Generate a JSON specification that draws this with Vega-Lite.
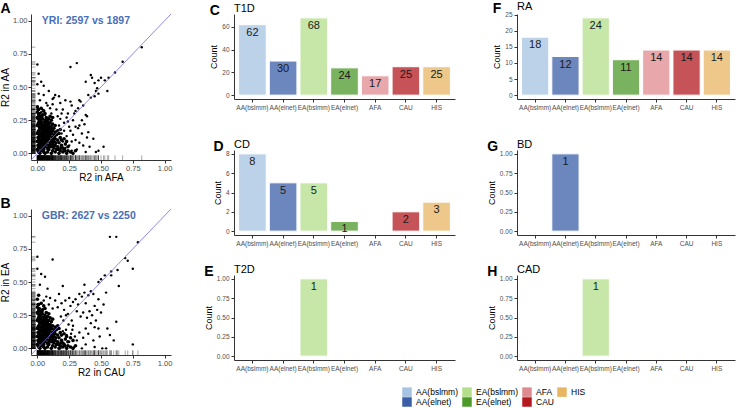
{
  "$schema": "https://vega.github.io/schema/vega-lite/v6.json",
  "padding": {"left": 0, "top": 0, "right": 2, "bottom": 0},
  "config": {
    "font": "Liberation Sans",
    "view": {"stroke": null},
    "title": {"font": "Liberation Sans", "color": "#000"},
    "axis": {"labelFont": "Liberation Sans", "titleFont": "Liberation Sans", "labelColor": "#4d4d4d", "titleColor": "#000", "titleFontWeight": "normal", "domainColor": "#333", "tickColor": "#333", "grid": false, "labelFlush": false, "labelOverlap": false},
    "legend": {"labelFont": "Liberation Sans"}
  },
  "datasets": {
    "bars": [
      {"panel": "T1D", "pop": "AA(bslmm)", "count": 62}, {"panel": "T1D", "pop": "AA(elnet)", "count": 30}, {"panel": "T1D", "pop": "EA(bslmm)", "count": 68}, {"panel": "T1D", "pop": "EA(elnet)", "count": 24}, {"panel": "T1D", "pop": "AFA", "count": 17}, {"panel": "T1D", "pop": "CAU", "count": 25}, {"panel": "T1D", "pop": "HIS", "count": 25},
      {"panel": "CD", "pop": "AA(bslmm)", "count": 8}, {"panel": "CD", "pop": "AA(elnet)", "count": 5}, {"panel": "CD", "pop": "EA(bslmm)", "count": 5}, {"panel": "CD", "pop": "EA(elnet)", "count": 1}, {"panel": "CD", "pop": "AFA", "count": 0}, {"panel": "CD", "pop": "CAU", "count": 2}, {"panel": "CD", "pop": "HIS", "count": 3},
      {"panel": "T2D", "pop": "AA(bslmm)", "count": 0}, {"panel": "T2D", "pop": "AA(elnet)", "count": 0}, {"panel": "T2D", "pop": "EA(bslmm)", "count": 1}, {"panel": "T2D", "pop": "EA(elnet)", "count": 0}, {"panel": "T2D", "pop": "AFA", "count": 0}, {"panel": "T2D", "pop": "CAU", "count": 0}, {"panel": "T2D", "pop": "HIS", "count": 0},
      {"panel": "RA", "pop": "AA(bslmm)", "count": 18}, {"panel": "RA", "pop": "AA(elnet)", "count": 12}, {"panel": "RA", "pop": "EA(bslmm)", "count": 24}, {"panel": "RA", "pop": "EA(elnet)", "count": 11}, {"panel": "RA", "pop": "AFA", "count": 14}, {"panel": "RA", "pop": "CAU", "count": 14}, {"panel": "RA", "pop": "HIS", "count": 14},
      {"panel": "BD", "pop": "AA(bslmm)", "count": 0}, {"panel": "BD", "pop": "AA(elnet)", "count": 1}, {"panel": "BD", "pop": "EA(bslmm)", "count": 0}, {"panel": "BD", "pop": "EA(elnet)", "count": 0}, {"panel": "BD", "pop": "AFA", "count": 0}, {"panel": "BD", "pop": "CAU", "count": 0}, {"panel": "BD", "pop": "HIS", "count": 0},
      {"panel": "CAD", "pop": "AA(bslmm)", "count": 0}, {"panel": "CAD", "pop": "AA(elnet)", "count": 0}, {"panel": "CAD", "pop": "EA(bslmm)", "count": 1}, {"panel": "CAD", "pop": "EA(elnet)", "count": 0}, {"panel": "CAD", "pop": "AFA", "count": 0}, {"panel": "CAD", "pop": "CAU", "count": 0}, {"panel": "CAD", "pop": "HIS", "count": 0}
    ],
    "a": [
      {"x":0.82,"y":0.80},{"x":0.67,"y":0.69},{"x":0.61,"y":0.61},{"x":0.56,"y":0.57},{"x":0.53,"y":0.55},{"x":0.50,"y":0.57},{"x":0.48,"y":0.55},{"x":0.45,"y":0.53},{"x":0.42,"y":0.59},{"x":0.43,"y":0.57},{"x":0.47,"y":0.49},{"x":0.46,"y":0.47},{"x":0.48,"y":0.45},{"x":0.55,"y":0.47},{"x":0.38,"y":0.54},{"x":0.31,"y":0.68},{"x":0.26,"y":0.65},{"x":0.00,"y":0.67},{"x":0.03,"y":0.54},{"x":0.05,"y":0.51},{"x":0.42,"y":0.42},{"x":0.45,"y":0.43},{"x":0.40,"y":0.44},{"x":0.36,"y":0.36},{"x":0.33,"y":0.40},{"x":0.34,"y":0.39},{"x":0.38,"y":0.29},{"x":0.39,"y":0.28},{"x":0.32,"y":0.34},{"x":0.30,"y":0.32},{"x":0.27,"y":0.36},{"x":0.26,"y":0.39},{"x":0.22,"y":0.40},{"x":0.17,"y":0.43},{"x":0.13,"y":0.42},{"x":0.12,"y":0.41},{"x":0.07,"y":0.38},{"x":0.08,"y":0.36},{"x":0.02,"y":0.40},{"x":0.01,"y":0.45},{"x":0.04,"y":0.33},{"x":0.10,"y":0.34},{"x":0.15,"y":0.33},{"x":0.19,"y":0.30},{"x":0.23,"y":0.27},{"x":0.28,"y":0.25},{"x":0.33,"y":0.21},{"x":0.32,"y":0.19},{"x":0.40,"y":0.16},{"x":0.39,"y":0.12},{"x":0.36,"y":0.06},{"x":0.46,"y":0.01},{"x":0.48,"y":0.02},{"x":0.44,"y":0.11},{"x":0.41,"y":0.05},{"x":0.30,"y":0.10},{"x":0.28,"y":0.14},{"x":0.25,"y":0.20},{"x":0.21,"y":0.23},{"x":0.18,"y":0.26},{"x":0.16,"y":0.28},{"x":0.11,"y":0.30},{"x":0.06,"y":0.29},{"x":0.03,"y":0.31},{"x":0.35,"y":0.25},{"x":0.37,"y":0.22},{"x":0.29,"y":0.30},{"x":0.24,"y":0.30},{"x":0.20,"y":0.33},{"x":0.05,"y":0.44},{"x":0.09,"y":0.47},{"x":0.14,"y":0.44},{"x":0.18,"y":0.38},{"x":0.12,"y":0.37},{"x":0.00,"y":0.52},{"x":0.01,"y":0.60},{"x":0.25,"y":0.06},{"x":0.27,"y":0.02},{"x":0.33,"y":0.08},{"x":0.31,"y":0.03},{"x":0.22,"y":0.04},{"x":0.20,"y":0.09},{"x":0.19,"y":0.15},{"x":0.23,"y":0.13},{"x":0.26,"y":0.17},{"x":0.52,"y":0.05},{"x":0.38,"y":0.01},{"x":0.17,"y":0.21},{"x":0.21,"y":0.17},{"x":0.24,"y":0.24},{"x":0.27,"y":0.09},{"x":0.35,"y":0.15},{"x":0.30,"y":0.20}
    ],
    "ac": [
      {"x":0.01,"y":0.01},{"x":0.02,"y":0.00},{"x":0.03,"y":0.02},{"x":0.05,"y":0.01},{"x":0.06,"y":0.00},{"x":0.08,"y":0.01},{"x":0.09,"y":0.03},{"x":0.11,"y":0.00},{"x":0.12,"y":0.02},{"x":0.14,"y":0.01},{"x":0.15,"y":0.03},{"x":0.17,"y":0.00},{"x":0.18,"y":0.02},{"x":0.20,"y":0.01},{"x":0.21,"y":0.03},{"x":0.23,"y":0.00},{"x":0.24,"y":0.02},{"x":0.26,"y":0.01},{"x":0.28,"y":0.00},{"x":0.30,"y":0.02},{"x":0.00,"y":0.03},{"x":0.01,"y":0.05},{"x":0.02,"y":0.07},{"x":0.00,"y":0.09},{"x":0.01,"y":0.11},{"x":0.02,"y":0.13},{"x":0.00,"y":0.15},{"x":0.01,"y":0.17},{"x":0.02,"y":0.19},{"x":0.00,"y":0.21},{"x":0.01,"y":0.23},{"x":0.02,"y":0.25},{"x":0.00,"y":0.27},{"x":0.01,"y":0.29},{"x":0.00,"y":0.31},{"x":0.01,"y":0.33},{"x":0.00,"y":0.35},
      {"x":0.03,"y":0.04},{"x":0.04,"y":0.06},{"x":0.05,"y":0.03},{"x":0.06,"y":0.05},{"x":0.07,"y":0.07},{"x":0.08,"y":0.04},{"x":0.09,"y":0.06},{"x":0.10,"y":0.08},{"x":0.11,"y":0.05},{"x":0.12,"y":0.07},{"x":0.13,"y":0.04},{"x":0.14,"y":0.06},{"x":0.16,"y":0.05},{"x":0.17,"y":0.08},{"x":0.19,"y":0.06},{"x":0.20,"y":0.04},{"x":0.22,"y":0.07},{"x":0.24,"y":0.05},
      {"x":0.03,"y":0.09},{"x":0.04,"y":0.11},{"x":0.05,"y":0.08},{"x":0.06,"y":0.10},{"x":0.07,"y":0.12},{"x":0.08,"y":0.09},{"x":0.09,"y":0.11},{"x":0.10,"y":0.13},{"x":0.11,"y":0.10},{"x":0.12,"y":0.12},{"x":0.13,"y":0.09},{"x":0.14,"y":0.11},{"x":0.15,"y":0.14},{"x":0.16,"y":0.10},{"x":0.18,"y":0.12},{"x":0.19,"y":0.10},{"x":0.21,"y":0.11},{"x":0.23,"y":0.09},
      {"x":0.03,"y":0.14},{"x":0.04,"y":0.16},{"x":0.05,"y":0.13},{"x":0.06,"y":0.15},{"x":0.07,"y":0.17},{"x":0.08,"y":0.14},{"x":0.09,"y":0.16},{"x":0.10,"y":0.18},{"x":0.11,"y":0.15},{"x":0.12,"y":0.17},{"x":0.13,"y":0.14},{"x":0.14,"y":0.16},{"x":0.16,"y":0.17},{"x":0.17,"y":0.15},{"x":0.18,"y":0.18},
      {"x":0.03,"y":0.19},{"x":0.04,"y":0.21},{"x":0.05,"y":0.18},{"x":0.06,"y":0.20},{"x":0.07,"y":0.22},{"x":0.08,"y":0.19},{"x":0.09,"y":0.21},{"x":0.10,"y":0.23},{"x":0.11,"y":0.20},{"x":0.12,"y":0.22},{"x":0.13,"y":0.19},{"x":0.14,"y":0.21},
      {"x":0.03,"y":0.24},{"x":0.04,"y":0.26},{"x":0.05,"y":0.23},{"x":0.06,"y":0.25},{"x":0.07,"y":0.27},{"x":0.08,"y":0.24},{"x":0.09,"y":0.26},{"x":0.10,"y":0.28},{"x":0.11,"y":0.25},{"x":0.12,"y":0.27},
      {"x":0.02,"y":0.28},{"x":0.04,"y":0.29},{"x":0.06,"y":0.30},{"x":0.03,"y":0.34},{"x":0.05,"y":0.32},
      {"x":0.005,"y":0.02},{"x":0.015,"y":0.04},{"x":0.025,"y":0.06},{"x":0.035,"y":0.08},{"x":0.045,"y":0.10},{"x":0.055,"y":0.12},{"x":0.065,"y":0.14},{"x":0.075,"y":0.16},{"x":0.085,"y":0.18},{"x":0.095,"y":0.20},{"x":0.005,"y":0.12},{"x":0.015,"y":0.14},{"x":0.025,"y":0.16},{"x":0.035,"y":0.18},{"x":0.045,"y":0.20},{"x":0.055,"y":0.22},{"x":0.065,"y":0.24},{"x":0.075,"y":0.26},{"x":0.005,"y":0.22},{"x":0.015,"y":0.24},{"x":0.025,"y":0.26},{"x":0.035,"y":0.28},{"x":0.015,"y":0.08},{"x":0.025,"y":0.10},{"x":0.035,"y":0.12},{"x":0.045,"y":0.14},{"x":0.055,"y":0.16},{"x":0.065,"y":0.18},{"x":0.075,"y":0.20},{"x":0.085,"y":0.22},{"x":0.045,"y":0.04},{"x":0.055,"y":0.06},{"x":0.065,"y":0.08},{"x":0.075,"y":0.10},{"x":0.085,"y":0.12},{"x":0.095,"y":0.14},{"x":0.105,"y":0.16},{"x":0.115,"y":0.18},{"x":0.085,"y":0.03},{"x":0.095,"y":0.05},{"x":0.105,"y":0.07},{"x":0.115,"y":0.09},{"x":0.125,"y":0.11},{"x":0.135,"y":0.13},{"x":0.145,"y":0.08},{"x":0.165,"y":0.03},{"x":0.125,"y":0.05},{"x":0.185,"y":0.04},{"x":0.215,"y":0.02},{"x":0.005,"y":0.06},{"x":0.005,"y":0.16},{"x":0.005,"y":0.26},{"x":0.005,"y":0.33},{"x":0.015,"y":0.30},{"x":0.015,"y":0.20},{"x":0.025,"y":0.22},{"x":0.015,"y":0.10}
    ],
    "b": [
      {"x":0.57,"y":0.84},{"x":0.62,"y":0.84},{"x":0.79,"y":0.80},{"x":0.69,"y":0.68},{"x":0.71,"y":0.66},{"x":0.75,"y":0.60},{"x":0.12,"y":0.67},{"x":0.00,"y":0.69},{"x":0.00,"y":0.60},{"x":0.03,"y":0.56},{"x":0.06,"y":0.54},{"x":0.63,"y":0.59},{"x":0.58,"y":0.58},{"x":0.58,"y":0.55},{"x":0.53,"y":0.55},{"x":0.50,"y":0.52},{"x":0.48,"y":0.50},{"x":0.64,"y":0.47},{"x":0.37,"y":0.48},{"x":0.20,"y":0.47},{"x":0.54,"y":0.42},{"x":0.48,"y":0.37},{"x":0.45,"y":0.32},{"x":0.38,"y":0.34},{"x":0.55,"y":0.15},{"x":0.48,"y":0.15},{"x":0.45,"y":0.16},{"x":0.38,"y":0.15},{"x":0.62,"y":0.20},{"x":0.75,"y":0.03},{"x":0.45,"y":0.01},{"x":0.54,"y":0.00},{"x":0.51,"y":0.00},{"x":0.35,"y":0.00},{"x":0.29,"y":0.01},{"x":0.18,"y":0.00},
      {"x":0.42,"y":0.43},{"x":0.44,"y":0.41},{"x":0.40,"y":0.40},{"x":0.37,"y":0.42},{"x":0.35,"y":0.39},{"x":0.33,"y":0.41},{"x":0.30,"y":0.37},{"x":0.32,"y":0.33},{"x":0.28,"y":0.35},{"x":0.26,"y":0.32},{"x":0.25,"y":0.38},{"x":0.22,"y":0.36},{"x":0.19,"y":0.34},{"x":0.16,"y":0.31},{"x":0.14,"y":0.36},{"x":0.10,"y":0.38},{"x":0.07,"y":0.39},{"x":0.05,"y":0.36},{"x":0.03,"y":0.34},{"x":0.09,"y":0.33},{"x":0.12,"y":0.30},{"x":0.41,"y":0.28},{"x":0.43,"y":0.25},{"x":0.39,"y":0.23},{"x":0.36,"y":0.27},{"x":0.34,"y":0.24},{"x":0.31,"y":0.28},{"x":0.47,"y":0.29},{"x":0.50,"y":0.27},{"x":0.52,"y":0.33},{"x":0.46,"y":0.21},{"x":0.42,"y":0.19},{"x":0.40,"y":0.11},{"x":0.36,"y":0.08},{"x":0.33,"y":0.12},{"x":0.31,"y":0.06},{"x":0.28,"y":0.17},{"x":0.27,"y":0.21},{"x":0.24,"y":0.26},{"x":0.21,"y":0.29},{"x":0.23,"y":0.10},{"x":0.25,"y":0.05},{"x":0.20,"y":0.13},{"x":0.44,"y":0.06},{"x":0.57,"y":0.10},{"x":0.60,"y":0.06},{"x":0.49,"y":0.09},{"x":0.38,"y":0.03},{"x":0.17,"y":0.41},{"x":0.08,"y":0.45},{"x":0.02,"y":0.48},{"x":0.185,"y":0.24},{"x":0.205,"y":0.21},{"x":0.225,"y":0.14},{"x":0.245,"y":0.18},{"x":0.265,"y":0.11},{"x":0.275,"y":0.14},{"x":0.295,"y":0.09},{"x":0.225,"y":0.25}
    ],
    "bc": [
      {"x":0.01,"y":0.01},{"x":0.02,"y":0.00},{"x":0.03,"y":0.02},{"x":0.05,"y":0.01},{"x":0.06,"y":0.00},{"x":0.08,"y":0.01},{"x":0.09,"y":0.03},{"x":0.11,"y":0.00},{"x":0.12,"y":0.02},{"x":0.14,"y":0.01},{"x":0.15,"y":0.03},{"x":0.17,"y":0.00},{"x":0.18,"y":0.02},{"x":0.20,"y":0.01},{"x":0.21,"y":0.03},{"x":0.23,"y":0.00},{"x":0.24,"y":0.02},{"x":0.26,"y":0.01},{"x":0.28,"y":0.00},{"x":0.30,"y":0.02},{"x":0.00,"y":0.03},{"x":0.01,"y":0.05},{"x":0.02,"y":0.07},{"x":0.00,"y":0.09},{"x":0.01,"y":0.11},{"x":0.02,"y":0.13},{"x":0.00,"y":0.15},{"x":0.01,"y":0.17},{"x":0.02,"y":0.19},{"x":0.00,"y":0.21},{"x":0.01,"y":0.23},{"x":0.02,"y":0.25},{"x":0.00,"y":0.27},{"x":0.01,"y":0.29},{"x":0.00,"y":0.31},{"x":0.01,"y":0.33},{"x":0.00,"y":0.37},{"x":0.01,"y":0.40},
      {"x":0.03,"y":0.04},{"x":0.04,"y":0.06},{"x":0.05,"y":0.03},{"x":0.06,"y":0.05},{"x":0.07,"y":0.07},{"x":0.08,"y":0.04},{"x":0.09,"y":0.06},{"x":0.10,"y":0.08},{"x":0.11,"y":0.05},{"x":0.12,"y":0.07},{"x":0.13,"y":0.04},{"x":0.14,"y":0.06},{"x":0.16,"y":0.05},{"x":0.17,"y":0.08},{"x":0.19,"y":0.06},{"x":0.20,"y":0.04},{"x":0.22,"y":0.07},{"x":0.24,"y":0.05},{"x":0.26,"y":0.08},{"x":0.28,"y":0.06},
      {"x":0.03,"y":0.09},{"x":0.04,"y":0.11},{"x":0.05,"y":0.08},{"x":0.06,"y":0.10},{"x":0.07,"y":0.12},{"x":0.08,"y":0.09},{"x":0.09,"y":0.11},{"x":0.10,"y":0.13},{"x":0.11,"y":0.10},{"x":0.12,"y":0.12},{"x":0.13,"y":0.09},{"x":0.14,"y":0.11},{"x":0.15,"y":0.14},{"x":0.16,"y":0.10},{"x":0.18,"y":0.12},{"x":0.19,"y":0.10},{"x":0.21,"y":0.11},{"x":0.23,"y":0.09},
      {"x":0.03,"y":0.14},{"x":0.04,"y":0.16},{"x":0.05,"y":0.13},{"x":0.06,"y":0.15},{"x":0.07,"y":0.17},{"x":0.08,"y":0.14},{"x":0.09,"y":0.16},{"x":0.10,"y":0.18},{"x":0.11,"y":0.15},{"x":0.12,"y":0.17},{"x":0.13,"y":0.14},{"x":0.14,"y":0.16},{"x":0.16,"y":0.17},{"x":0.17,"y":0.15},
      {"x":0.03,"y":0.19},{"x":0.04,"y":0.21},{"x":0.05,"y":0.18},{"x":0.06,"y":0.20},{"x":0.07,"y":0.22},{"x":0.08,"y":0.19},{"x":0.09,"y":0.21},{"x":0.10,"y":0.23},{"x":0.11,"y":0.20},{"x":0.12,"y":0.22},
      {"x":0.03,"y":0.24},{"x":0.04,"y":0.26},{"x":0.05,"y":0.23},{"x":0.06,"y":0.25},{"x":0.07,"y":0.27},{"x":0.08,"y":0.24},{"x":0.09,"y":0.26},
      {"x":0.02,"y":0.28},{"x":0.04,"y":0.29},{"x":0.06,"y":0.30},{"x":0.03,"y":0.34},{"x":0.05,"y":0.32},
      {"x":0.005,"y":0.02},{"x":0.015,"y":0.04},{"x":0.025,"y":0.06},{"x":0.035,"y":0.08},{"x":0.045,"y":0.10},{"x":0.055,"y":0.12},{"x":0.065,"y":0.14},{"x":0.075,"y":0.16},{"x":0.085,"y":0.18},{"x":0.005,"y":0.12},{"x":0.015,"y":0.14},{"x":0.025,"y":0.16},{"x":0.035,"y":0.18},{"x":0.045,"y":0.20},{"x":0.055,"y":0.22},{"x":0.065,"y":0.24},{"x":0.005,"y":0.22},{"x":0.015,"y":0.24},{"x":0.025,"y":0.26},{"x":0.035,"y":0.28},{"x":0.015,"y":0.08},{"x":0.025,"y":0.10},{"x":0.035,"y":0.12},{"x":0.045,"y":0.14},{"x":0.055,"y":0.16},{"x":0.065,"y":0.18},{"x":0.075,"y":0.20},{"x":0.045,"y":0.04},{"x":0.055,"y":0.06},{"x":0.065,"y":0.08},{"x":0.075,"y":0.10},{"x":0.085,"y":0.12},{"x":0.095,"y":0.14},{"x":0.105,"y":0.16},{"x":0.085,"y":0.03},{"x":0.095,"y":0.05},{"x":0.105,"y":0.07},{"x":0.115,"y":0.09},{"x":0.125,"y":0.11},{"x":0.135,"y":0.13},{"x":0.145,"y":0.08},{"x":0.165,"y":0.03},{"x":0.125,"y":0.05},{"x":0.185,"y":0.04},{"x":0.215,"y":0.02},{"x":0.005,"y":0.06},{"x":0.005,"y":0.16},{"x":0.005,"y":0.26},{"x":0.005,"y":0.33},{"x":0.015,"y":0.30},{"x":0.015,"y":0.20},{"x":0.025,"y":0.22},{"x":0.015,"y":0.10}
    ]
  },
  "hconcat": [
    {
      "spacing": 13,
      "vconcat": [
        {
          "title": {"text": "A", "anchor": "start", "frame": "bounds", "fontSize": 14, "fontWeight": "bold", "offset": -2},
          "width": 140, "height": 146,
          "layer": [
            {"data": {"name": "ac"}, "mark": {"type": "rule", "color": "#000", "strokeWidth": 0.5, "opacity": 0.7},
             "encoding": {"x": {"field": "x", "type": "quantitative", "scale": {"domain": [-0.05, 1.05], "nice": false, "zero": false}, "axis": {"values": [0, 0.25, 0.5, 0.75, 1], "format": ".2f", "title": "R2 in AFA", "labelFontSize": 7.5, "titleFontSize": 10, "tickSize": 3, "labelPadding": 1, "titlePadding": 1, "labelOverlap": false}},
                          "y": {"datum": -0.05, "type": "quantitative", "scale": {"domain": [-0.05, 1.05], "nice": false, "zero": false}, "axis": {"values": [0, 0.25, 0.5, 0.75, 1], "format": ".2f", "title": "R2 in AA", "labelFontSize": 7.5, "titleFontSize": 10, "tickSize": 3, "labelPadding": 1, "titlePadding": 2, "labelOverlap": false}},
                          "y2": {"datum": -0.015}}},
            {"data": {"name": "a"}, "mark": {"type": "rule", "color": "#000", "strokeWidth": 0.5, "opacity": 0.7},
             "encoding": {"x": {"field": "x", "type": "quantitative", "axis": {"values": [0, 0.25, 0.5, 0.75, 1], "format": ".2f", "title": "R2 in AFA", "labelFontSize": 7.5, "titleFontSize": 10, "tickSize": 3, "labelPadding": 1, "titlePadding": 1, "labelOverlap": false}},
                          "y": {"datum": -0.05, "type": "quantitative", "axis": {"values": [0, 0.25, 0.5, 0.75, 1], "format": ".2f", "title": "R2 in AA", "labelFontSize": 7.5, "titleFontSize": 10, "tickSize": 3, "labelPadding": 1, "titlePadding": 2, "labelOverlap": false}},
                          "y2": {"datum": -0.015}}},
            {"data": {"name": "ac"}, "mark": {"type": "rule", "color": "#000", "strokeWidth": 0.5, "opacity": 0.7},
             "encoding": {"y": {"field": "y", "type": "quantitative", "axis": {"values": [0, 0.25, 0.5, 0.75, 1], "format": ".2f", "title": "R2 in AA", "labelFontSize": 7.5, "titleFontSize": 10, "tickSize": 3, "labelPadding": 1, "titlePadding": 2, "labelOverlap": false}},
                          "x": {"datum": -0.05, "type": "quantitative", "axis": {"values": [0, 0.25, 0.5, 0.75, 1], "format": ".2f", "title": "R2 in AFA", "labelFontSize": 7.5, "titleFontSize": 10, "tickSize": 3, "labelPadding": 1, "titlePadding": 1, "labelOverlap": false}},
                          "x2": {"datum": -0.015}}},
            {"data": {"name": "a"}, "mark": {"type": "rule", "color": "#000", "strokeWidth": 0.5, "opacity": 0.7},
             "encoding": {"y": {"field": "y", "type": "quantitative", "axis": {"values": [0, 0.25, 0.5, 0.75, 1], "format": ".2f", "title": "R2 in AA", "labelFontSize": 7.5, "titleFontSize": 10, "tickSize": 3, "labelPadding": 1, "titlePadding": 2, "labelOverlap": false}},
                          "x": {"datum": -0.05, "type": "quantitative", "axis": {"values": [0, 0.25, 0.5, 0.75, 1], "format": ".2f", "title": "R2 in AFA", "labelFontSize": 7.5, "titleFontSize": 10, "tickSize": 3, "labelPadding": 1, "titlePadding": 1, "labelOverlap": false}},
                          "x2": {"datum": -0.015}}},
            {"data": {"name": "ac"}, "mark": {"type": "circle", "color": "#000", "size": 13, "opacity": 1},
             "encoding": {"x": {"field": "x", "type": "quantitative", "axis": {"values": [0, 0.25, 0.5, 0.75, 1], "format": ".2f", "title": "R2 in AFA", "labelFontSize": 7.5, "titleFontSize": 10, "tickSize": 3, "labelPadding": 1, "titlePadding": 1, "labelOverlap": false}},
                          "y": {"field": "y", "type": "quantitative", "axis": {"values": [0, 0.25, 0.5, 0.75, 1], "format": ".2f", "title": "R2 in AA", "labelFontSize": 7.5, "titleFontSize": 10, "tickSize": 3, "labelPadding": 1, "titlePadding": 2, "labelOverlap": false}}}},
            {"data": {"name": "a"}, "mark": {"type": "circle", "color": "#000", "size": 6, "opacity": 1},
             "encoding": {"x": {"field": "x", "type": "quantitative", "axis": {"values": [0, 0.25, 0.5, 0.75, 1], "format": ".2f", "title": "R2 in AFA", "labelFontSize": 7.5, "titleFontSize": 10, "tickSize": 3, "labelPadding": 1, "titlePadding": 1, "labelOverlap": false}},
                          "y": {"field": "y", "type": "quantitative", "axis": {"values": [0, 0.25, 0.5, 0.75, 1], "format": ".2f", "title": "R2 in AA", "labelFontSize": 7.5, "titleFontSize": 10, "tickSize": 3, "labelPadding": 1, "titlePadding": 2, "labelOverlap": false}}}},
            {"data": {"values": [{}]}, "mark": {"type": "rule", "color": "#7468ee", "strokeWidth": 0.8},
             "encoding": {"x": {"datum": -0.05, "type": "quantitative", "axis": {"values": [0, 0.25, 0.5, 0.75, 1], "format": ".2f", "title": "R2 in AFA", "labelFontSize": 7.5, "titleFontSize": 10, "tickSize": 3, "labelPadding": 1, "titlePadding": 1, "labelOverlap": false}},
                          "y": {"datum": -0.05, "type": "quantitative", "axis": {"values": [0, 0.25, 0.5, 0.75, 1], "format": ".2f", "title": "R2 in AA", "labelFontSize": 7.5, "titleFontSize": 10, "tickSize": 3, "labelPadding": 1, "titlePadding": 2, "labelOverlap": false}},
                          "x2": {"datum": 1.05}, "y2": {"datum": 1.05}}},
            {"data": {"values": [{"label": "YRI: 2597 vs 1897"}]}, "mark": {"type": "text", "align": "left", "baseline": "middle", "fontWeight": "bold", "fontSize": 10.5, "color": "#4a6fb8"},
             "encoding": {"x": {"datum": 0.035, "type": "quantitative", "axis": {"values": [0, 0.25, 0.5, 0.75, 1], "format": ".2f", "title": "R2 in AFA", "labelFontSize": 7.5, "titleFontSize": 10, "tickSize": 3, "labelPadding": 1, "titlePadding": 1, "labelOverlap": false}},
                          "y": {"datum": 1.0, "type": "quantitative", "axis": {"values": [0, 0.25, 0.5, 0.75, 1], "format": ".2f", "title": "R2 in AA", "labelFontSize": 7.5, "titleFontSize": 10, "tickSize": 3, "labelPadding": 1, "titlePadding": 2, "labelOverlap": false}},
                          "text": {"field": "label"}}}
          ]
        },
        {
          "title": {"text": "B", "anchor": "start", "frame": "bounds", "fontSize": 14, "fontWeight": "bold", "offset": -2},
          "width": 140, "height": 146,
          "layer": [
            {"data": {"name": "bc"}, "mark": {"type": "rule", "color": "#000", "strokeWidth": 0.5, "opacity": 0.7},
             "encoding": {"x": {"field": "x", "type": "quantitative", "scale": {"domain": [-0.05, 1.05], "nice": false, "zero": false}, "axis": {"values": [0, 0.25, 0.5, 0.75, 1], "format": ".2f", "title": "R2 in CAU", "labelFontSize": 7.5, "titleFontSize": 10, "tickSize": 3, "labelPadding": 1, "titlePadding": 1, "labelOverlap": false}},
                          "y": {"datum": -0.05, "type": "quantitative", "scale": {"domain": [-0.05, 1.05], "nice": false, "zero": false}, "axis": {"values": [0, 0.25, 0.5, 0.75, 1], "format": ".2f", "title": "R2 in EA", "labelFontSize": 7.5, "titleFontSize": 10, "tickSize": 3, "labelPadding": 1, "titlePadding": 2, "labelOverlap": false}},
                          "y2": {"datum": -0.015}}},
            {"data": {"name": "b"}, "mark": {"type": "rule", "color": "#000", "strokeWidth": 0.5, "opacity": 0.7},
             "encoding": {"x": {"field": "x", "type": "quantitative", "axis": {"values": [0, 0.25, 0.5, 0.75, 1], "format": ".2f", "title": "R2 in CAU", "labelFontSize": 7.5, "titleFontSize": 10, "tickSize": 3, "labelPadding": 1, "titlePadding": 1, "labelOverlap": false}},
                          "y": {"datum": -0.05, "type": "quantitative", "axis": {"values": [0, 0.25, 0.5, 0.75, 1], "format": ".2f", "title": "R2 in EA", "labelFontSize": 7.5, "titleFontSize": 10, "tickSize": 3, "labelPadding": 1, "titlePadding": 2, "labelOverlap": false}},
                          "y2": {"datum": -0.015}}},
            {"data": {"name": "bc"}, "mark": {"type": "rule", "color": "#000", "strokeWidth": 0.5, "opacity": 0.7},
             "encoding": {"y": {"field": "y", "type": "quantitative", "axis": {"values": [0, 0.25, 0.5, 0.75, 1], "format": ".2f", "title": "R2 in EA", "labelFontSize": 7.5, "titleFontSize": 10, "tickSize": 3, "labelPadding": 1, "titlePadding": 2, "labelOverlap": false}},
                          "x": {"datum": -0.05, "type": "quantitative", "axis": {"values": [0, 0.25, 0.5, 0.75, 1], "format": ".2f", "title": "R2 in CAU", "labelFontSize": 7.5, "titleFontSize": 10, "tickSize": 3, "labelPadding": 1, "titlePadding": 1, "labelOverlap": false}},
                          "x2": {"datum": -0.015}}},
            {"data": {"name": "b"}, "mark": {"type": "rule", "color": "#000", "strokeWidth": 0.5, "opacity": 0.7},
             "encoding": {"y": {"field": "y", "type": "quantitative", "axis": {"values": [0, 0.25, 0.5, 0.75, 1], "format": ".2f", "title": "R2 in EA", "labelFontSize": 7.5, "titleFontSize": 10, "tickSize": 3, "labelPadding": 1, "titlePadding": 2, "labelOverlap": false}},
                          "x": {"datum": -0.05, "type": "quantitative", "axis": {"values": [0, 0.25, 0.5, 0.75, 1], "format": ".2f", "title": "R2 in CAU", "labelFontSize": 7.5, "titleFontSize": 10, "tickSize": 3, "labelPadding": 1, "titlePadding": 1, "labelOverlap": false}},
                          "x2": {"datum": -0.015}}},
            {"data": {"name": "bc"}, "mark": {"type": "circle", "color": "#000", "size": 13, "opacity": 1},
             "encoding": {"x": {"field": "x", "type": "quantitative", "axis": {"values": [0, 0.25, 0.5, 0.75, 1], "format": ".2f", "title": "R2 in CAU", "labelFontSize": 7.5, "titleFontSize": 10, "tickSize": 3, "labelPadding": 1, "titlePadding": 1, "labelOverlap": false}},
                          "y": {"field": "y", "type": "quantitative", "axis": {"values": [0, 0.25, 0.5, 0.75, 1], "format": ".2f", "title": "R2 in EA", "labelFontSize": 7.5, "titleFontSize": 10, "tickSize": 3, "labelPadding": 1, "titlePadding": 2, "labelOverlap": false}}}},
            {"data": {"name": "b"}, "mark": {"type": "circle", "color": "#000", "size": 6, "opacity": 1},
             "encoding": {"x": {"field": "x", "type": "quantitative", "axis": {"values": [0, 0.25, 0.5, 0.75, 1], "format": ".2f", "title": "R2 in CAU", "labelFontSize": 7.5, "titleFontSize": 10, "tickSize": 3, "labelPadding": 1, "titlePadding": 1, "labelOverlap": false}},
                          "y": {"field": "y", "type": "quantitative", "axis": {"values": [0, 0.25, 0.5, 0.75, 1], "format": ".2f", "title": "R2 in EA", "labelFontSize": 7.5, "titleFontSize": 10, "tickSize": 3, "labelPadding": 1, "titlePadding": 2, "labelOverlap": false}}}},
            {"data": {"values": [{}]}, "mark": {"type": "rule", "color": "#7468ee", "strokeWidth": 0.8},
             "encoding": {"x": {"datum": -0.05, "type": "quantitative", "axis": {"values": [0, 0.25, 0.5, 0.75, 1], "format": ".2f", "title": "R2 in CAU", "labelFontSize": 7.5, "titleFontSize": 10, "tickSize": 3, "labelPadding": 1, "titlePadding": 1, "labelOverlap": false}},
                          "y": {"datum": -0.05, "type": "quantitative", "axis": {"values": [0, 0.25, 0.5, 0.75, 1], "format": ".2f", "title": "R2 in EA", "labelFontSize": 7.5, "titleFontSize": 10, "tickSize": 3, "labelPadding": 1, "titlePadding": 2, "labelOverlap": false}},
                          "x2": {"datum": 1.05}, "y2": {"datum": 1.05}}},
            {"data": {"values": [{"label": "GBR: 2627 vs 2250"}]}, "mark": {"type": "text", "align": "left", "baseline": "middle", "fontWeight": "bold", "fontSize": 10.5, "color": "#4a6fb8"},
             "encoding": {"x": {"datum": 0.035, "type": "quantitative", "axis": {"values": [0, 0.25, 0.5, 0.75, 1], "format": ".2f", "title": "R2 in CAU", "labelFontSize": 7.5, "titleFontSize": 10, "tickSize": 3, "labelPadding": 1, "titlePadding": 1, "labelOverlap": false}},
                          "y": {"datum": 1.0, "type": "quantitative", "axis": {"values": [0, 0.25, 0.5, 0.75, 1], "format": ".2f", "title": "R2 in EA", "labelFontSize": 7.5, "titleFontSize": 10, "tickSize": 3, "labelPadding": 1, "titlePadding": 2, "labelOverlap": false}},
                          "text": {"field": "label"}}}
          ]
        }
      ]
    },
    {
      "spacing": 28,
      "vconcat": [
        {"title": {"text": "C", "anchor": "start", "frame": "bounds", "fontSize": 14, "fontWeight": "bold", "offset": -15},
         "vconcat": [{
          "width": 221, "height": 85,
          "title": {"text": "T1D", "anchor": "start", "frame": "group", "fontSize": 11, "fontWeight": "normal", "offset": 0},
          "data": {"name": "bars"}, "transform": [{"filter": "datum.panel === 'T1D'"}],
          "encoding": {
            "x": {"field": "pop", "type": "nominal", "sort": ["AA(bslmm)", "AA(elnet)", "EA(bslmm)", "EA(elnet)", "AFA", "CAU", "HIS"], "scale": {"paddingInner": 0.1, "paddingOuter": 0.15}, "axis": {"title": null, "labelAngle": 0, "labelFontSize": 6.5, "labelPadding": 2, "tickSize": 3}},
            "y": {"field": "count", "type": "quantitative", "scale": {"domain": [-3.4, 71.4], "nice": false, "zero": false}, "axis": {"values": [0, 20, 40, 60], "title": "Count", "labelFontSize": 6.5, "titleFontSize": 9, "tickSize": 3, "labelPadding": 2, "titlePadding": 3}}
          },
          "layer": [
            {"mark": {"type": "bar", "stroke": "white", "strokeWidth": 1, "fillOpacity": 0.75},
             "encoding": {"color": {"field": "pop", "type": "nominal",
               "scale": {"domain": ["AA(bslmm)", "EA(bslmm)", "AFA", "HIS", "AA(elnet)", "EA(elnet)", "CAU"], "range": ["#a6c3e1", "#b3df8a", "#df8a8f", "#e8b563", "#3b5ea8", "#4d9a2b", "#b3191f"]},
               "legend": {"title": null, "orient": "none", "legendX": 371, "legendY": 373, "direction": "horizontal", "columns": 4, "symbolType": "square", "symbolSize": 90, "symbolOpacity": 1, "symbolStrokeWidth": 0, "labelFontSize": 8.5, "labelColor": "#000", "labelOffset": 4, "columnPadding": 3, "rowPadding": 0}}}},
            {"transform": [{"filter": "datum.count > 0"}], "mark": {"type": "text", "baseline": "middle", "dy": 8, "fontSize": 11, "color": "#1a1a1a"},
             "encoding": {"text": {"field": "count", "type": "quantitative"}}}
          ]
         }]},
        {"spacing": 17, "vconcat": [
        {"title": {"text": "D", "anchor": "start", "frame": "bounds", "fontSize": 14, "fontWeight": "bold", "offset": -15},
         "vconcat": [{
          "width": 221, "height": 85,
          "title": {"text": "CD", "anchor": "start", "frame": "group", "fontSize": 11, "fontWeight": "normal", "offset": 0},
          "data": {"name": "bars"}, "transform": [{"filter": "datum.panel === 'CD'"}],
          "encoding": {
            "x": {"field": "pop", "type": "nominal", "sort": ["AA(bslmm)", "AA(elnet)", "EA(bslmm)", "EA(elnet)", "AFA", "CAU", "HIS"], "scale": {"paddingInner": 0.1, "paddingOuter": 0.15}, "axis": {"title": null, "labelAngle": 0, "labelFontSize": 6.5, "labelPadding": 2, "tickSize": 3}},
            "y": {"field": "count", "type": "quantitative", "scale": {"domain": [-0.4, 8.4], "nice": false, "zero": false}, "axis": {"values": [0, 2, 4, 6, 8], "title": "Count", "labelFontSize": 6.5, "titleFontSize": 9, "tickSize": 3, "labelPadding": 2, "titlePadding": 3}}
          },
          "layer": [
            {"mark": {"type": "bar", "stroke": "white", "strokeWidth": 1, "fillOpacity": 0.75},
             "encoding": {"color": {"field": "pop", "type": "nominal"}}},
            {"transform": [{"filter": "datum.count > 0"}], "mark": {"type": "text", "baseline": "middle", "dy": 8, "fontSize": 11, "color": "#1a1a1a"},
             "encoding": {"text": {"field": "count", "type": "quantitative"}}}
          ]
         }]},
        {"title": {"text": "E", "anchor": "start", "frame": "bounds", "fontSize": 14, "fontWeight": "bold", "offset": -15},
         "vconcat": [{
          "width": 221, "height": 85,
          "title": {"text": "T2D", "anchor": "start", "frame": "group", "fontSize": 11, "fontWeight": "normal", "offset": 0},
          "data": {"name": "bars"}, "transform": [{"filter": "datum.panel === 'T2D'"}],
          "encoding": {
            "x": {"field": "pop", "type": "nominal", "sort": ["AA(bslmm)", "AA(elnet)", "EA(bslmm)", "EA(elnet)", "AFA", "CAU", "HIS"], "scale": {"paddingInner": 0.1, "paddingOuter": 0.15}, "axis": {"title": null, "labelAngle": 0, "labelFontSize": 6.5, "labelPadding": 2, "tickSize": 3}},
            "y": {"field": "count", "type": "quantitative", "scale": {"domain": [-0.05, 1.05], "nice": false, "zero": false}, "axis": {"values": [0, 0.25, 0.5, 0.75, 1], "format": ".2f", "title": "Count", "labelFontSize": 6.5, "titleFontSize": 9, "tickSize": 3, "labelPadding": 2, "titlePadding": 3}}
          },
          "layer": [
            {"mark": {"type": "bar", "stroke": "white", "strokeWidth": 1, "fillOpacity": 0.75},
             "encoding": {"color": {"field": "pop", "type": "nominal"}}},
            {"transform": [{"filter": "datum.count > 0"}], "mark": {"type": "text", "baseline": "middle", "dy": 8, "fontSize": 11, "color": "#1a1a1a"},
             "encoding": {"text": {"field": "count", "type": "quantitative"}}}
          ]
         }]}
        ]}
      ]
    },
    {
      "spacing": 28,
      "vconcat": [
        {"title": {"text": "F", "anchor": "start", "frame": "bounds", "fontSize": 14, "fontWeight": "bold", "offset": -15},
         "vconcat": [{
          "width": 218, "height": 85,
          "title": {"text": "RA", "anchor": "start", "frame": "group", "fontSize": 11, "fontWeight": "normal", "offset": 0},
          "data": {"name": "bars"}, "transform": [{"filter": "datum.panel === 'RA'"}],
          "encoding": {
            "x": {"field": "pop", "type": "nominal", "sort": ["AA(bslmm)", "AA(elnet)", "EA(bslmm)", "EA(elnet)", "AFA", "CAU", "HIS"], "scale": {"paddingInner": 0.1, "paddingOuter": 0.15}, "axis": {"title": null, "labelAngle": 0, "labelFontSize": 6.5, "labelPadding": 2, "tickSize": 3}},
            "y": {"field": "count", "type": "quantitative", "scale": {"domain": [-1.2, 25.2], "nice": false, "zero": false}, "axis": {"values": [0, 5, 10, 15, 20, 25], "title": "Count", "labelFontSize": 6.5, "titleFontSize": 9, "tickSize": 3, "labelPadding": 2, "titlePadding": 3}}
          },
          "layer": [
            {"mark": {"type": "bar", "stroke": "white", "strokeWidth": 1, "fillOpacity": 0.75},
             "encoding": {"color": {"field": "pop", "type": "nominal"}}},
            {"transform": [{"filter": "datum.count > 0"}], "mark": {"type": "text", "baseline": "middle", "dy": 8, "fontSize": 11, "color": "#1a1a1a"},
             "encoding": {"text": {"field": "count", "type": "quantitative"}}}
          ]
         }]},
        {"spacing": 17, "vconcat": [
        {"title": {"text": "G", "anchor": "start", "frame": "bounds", "fontSize": 14, "fontWeight": "bold", "offset": -15},
         "vconcat": [{
          "width": 218, "height": 85,
          "title": {"text": "BD", "anchor": "start", "frame": "group", "fontSize": 11, "fontWeight": "normal", "offset": 0},
          "data": {"name": "bars"}, "transform": [{"filter": "datum.panel === 'BD'"}],
          "encoding": {
            "x": {"field": "pop", "type": "nominal", "sort": ["AA(bslmm)", "AA(elnet)", "EA(bslmm)", "EA(elnet)", "AFA", "CAU", "HIS"], "scale": {"paddingInner": 0.1, "paddingOuter": 0.15}, "axis": {"title": null, "labelAngle": 0, "labelFontSize": 6.5, "labelPadding": 2, "tickSize": 3}},
            "y": {"field": "count", "type": "quantitative", "scale": {"domain": [-0.05, 1.05], "nice": false, "zero": false}, "axis": {"values": [0, 0.25, 0.5, 0.75, 1], "format": ".2f", "title": "Count", "labelFontSize": 6.5, "titleFontSize": 9, "tickSize": 3, "labelPadding": 2, "titlePadding": 3}}
          },
          "layer": [
            {"mark": {"type": "bar", "stroke": "white", "strokeWidth": 1, "fillOpacity": 0.75},
             "encoding": {"color": {"field": "pop", "type": "nominal"}}},
            {"transform": [{"filter": "datum.count > 0"}], "mark": {"type": "text", "baseline": "middle", "dy": 8, "fontSize": 11, "color": "#1a1a1a"},
             "encoding": {"text": {"field": "count", "type": "quantitative"}}}
          ]
         }]},
        {"title": {"text": "H", "anchor": "start", "frame": "bounds", "fontSize": 14, "fontWeight": "bold", "offset": -15},
         "vconcat": [{
          "width": 218, "height": 85,
          "title": {"text": "CAD", "anchor": "start", "frame": "group", "fontSize": 11, "fontWeight": "normal", "offset": 0},
          "data": {"name": "bars"}, "transform": [{"filter": "datum.panel === 'CAD'"}],
          "encoding": {
            "x": {"field": "pop", "type": "nominal", "sort": ["AA(bslmm)", "AA(elnet)", "EA(bslmm)", "EA(elnet)", "AFA", "CAU", "HIS"], "scale": {"paddingInner": 0.1, "paddingOuter": 0.15}, "axis": {"title": null, "labelAngle": 0, "labelFontSize": 6.5, "labelPadding": 2, "tickSize": 3}},
            "y": {"field": "count", "type": "quantitative", "scale": {"domain": [-0.05, 1.05], "nice": false, "zero": false}, "axis": {"values": [0, 0.25, 0.5, 0.75, 1], "format": ".2f", "title": "Count", "labelFontSize": 6.5, "titleFontSize": 9, "tickSize": 3, "labelPadding": 2, "titlePadding": 3}}
          },
          "layer": [
            {"mark": {"type": "bar", "stroke": "white", "strokeWidth": 1, "fillOpacity": 0.75},
             "encoding": {"color": {"field": "pop", "type": "nominal"}}},
            {"transform": [{"filter": "datum.count > 0"}], "mark": {"type": "text", "baseline": "middle", "dy": 8, "fontSize": 11, "color": "#1a1a1a"},
             "encoding": {"text": {"field": "count", "type": "quantitative"}}}
          ]
         }]}
        ]}
      ]
    }
  ],
  "spacing": 32
}
